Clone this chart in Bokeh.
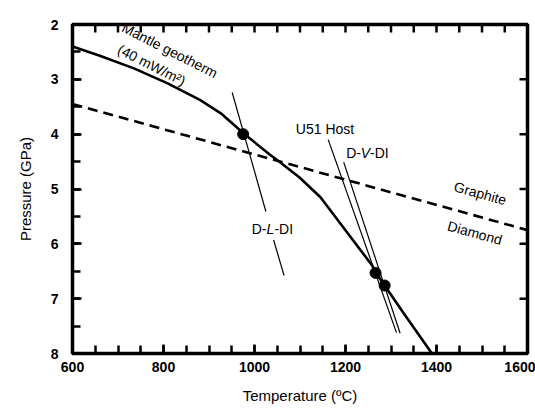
from bokeh.plotting import figure
from bokeh.models import SingleIntervalTicker, Range1d
from bokeh.core.properties import value
from bokeh.embed import file_html
from bokeh.resources import INLINE

# ---- data ----
geotherm_T = [600, 660, 735, 808, 881, 926, 975, 1032, 1054, 1099, 1145, 1197, 1259, 1266, 1286, 1329, 1390]
geotherm_P = [2.40, 2.57, 2.80, 3.07, 3.38, 3.62, 3.98, 4.36, 4.50, 4.79, 5.15, 5.72, 6.40, 6.52, 6.76, 7.28, 8.0]
gd_T = [600, 1600]              # graphite / diamond boundary
gd_P = [3.45, 5.75]
dldi_upper_T = [951, 1025]      # D-L-DI (interrupted by its label)
dldi_upper_P = [3.24, 5.41]
dldi_lower_T = [1042, 1065]
dldi_lower_P = [5.93, 6.58]
u51_T = [1162, 1312]            # U51 Host
u51_P = [4.10, 7.62]
dvdi_T = [1196, 1320]           # D-V-DI
dvdi_P = [4.51, 7.63]
dots_T = [975, 1266, 1286]
dots_P = [4.00, 6.53, 6.76]

# tick positions for the top and right edges (axis decoration)
top_tick_marks = list(range(650, 1600, 50))
right_tick_marks = [3, 4, 5, 6, 7]

X0, X1, Y0, Y1 = 600, 1600, 8, 2
FONT = "Liberation Sans"

p = figure(width=535, height=410, x_range=Range1d(X0, X1), y_range=Range1d(Y0, Y1),
           output_backend="svg", toolbar_location=None,
           min_border_left=72, min_border_right=8, min_border_top=24, min_border_bottom=57)
p.grid.visible = False
p.outline_line_color = "black"
p.outline_line_width = 3.5

for ax in (p.xaxis[0], p.yaxis[0]):
    ax.axis_line_color = "black"
    ax.axis_line_width = 2
    ax.major_tick_in = 9
    ax.major_tick_out = 0
    ax.minor_tick_in = 8
    ax.minor_tick_out = 0
    ax.major_tick_line_color = "black"
    ax.minor_tick_line_color = "black"
    ax.major_tick_line_width = 2.5
    ax.minor_tick_line_width = 2.5
    ax.major_label_text_font_style = "bold"
    ax.major_label_text_font_size = "14px"
    ax.major_label_text_color = "black"
    ax.axis_label_text_font_style = "normal"
    ax.axis_label_text_font_size = "15px"
    ax.axis_label_text_color = "black"

xa = p.xaxis[0]
xa.ticker = SingleIntervalTicker(interval=200, num_minor_ticks=4)
xa.axis_label = "Temperature (ºC)"
xa.major_label_standoff = 8
xa.axis_label_standoff = 12

ya = p.yaxis[0]
ya.ticker = SingleIntervalTicker(interval=1, num_minor_ticks=2)
ya.axis_label = "Pressure (GPa)"
ya.major_label_standoff = 14
ya.axis_label_standoff = 14

# top and right inward ticks (~8 px)
tx = 8 / 0.4555
ty = 8 / 54.8
p.segment(x0=top_tick_marks, y0=[Y1] * len(top_tick_marks), x1=top_tick_marks,
          y1=[Y1 + ty] * len(top_tick_marks), line_color="black", line_width=2.5)
p.segment(x0=[X1] * len(right_tick_marks), y0=right_tick_marks,
          x1=[X1 - tx] * len(right_tick_marks), y1=right_tick_marks, line_color="black", line_width=2.5)

# ---- lines ----
p.line(gd_T, gd_P, line_color="black", line_width=2.6, line_dash="10 6")
p.line(dldi_upper_T, dldi_upper_P, line_color="black", line_width=1.2)
p.line(dldi_lower_T, dldi_lower_P, line_color="black", line_width=1.2)
p.line(u51_T, u51_P, line_color="black", line_width=1.2)
p.line(dvdi_T, dvdi_P, line_color="black", line_width=1.2)
p.line(geotherm_T, geotherm_P, line_color="black", line_width=2.6, line_join="round")
p.scatter(dots_T, dots_P, size=11, color="black")

def lab(x, y, text, size="14px", angle=0.0, style="normal", align="center", xoff=0):
    p.text(x=[x], y=[y], text=[text], angle=angle, x_offset=xoff,
           text_font=value(FONT), text_font_size=value(size), text_font_style=style,
           text_align=align, text_baseline="middle", text_color="black")

lab(814, 2.47, "Mantle geotherm", angle=-0.47)
lab(774, 2.74, "(40 mW/m²)", angle=-0.47)
lab(1155, 3.90, "U51 Host")
lab(1496, 5.08, "Graphite", angle=-0.27)
lab(1484, 5.80, "Diamond", angle=-0.27)

# D-V-DI with italic V
lab(1244, 4.34, "D-", align="right", xoff=-4.5)
lab(1244, 4.34, "V", style="italic")
lab(1244, 4.34, "-DI", align="left", xoff=4.5)

# D-L-DI with italic L
lab(1035, 5.73, "D-", align="right", xoff=-4)
lab(1035, 5.73, "L", style="italic")
lab(1035, 5.73, "-DI", align="left", xoff=4)

open("out.html", "w").write(file_html(p, INLINE))
